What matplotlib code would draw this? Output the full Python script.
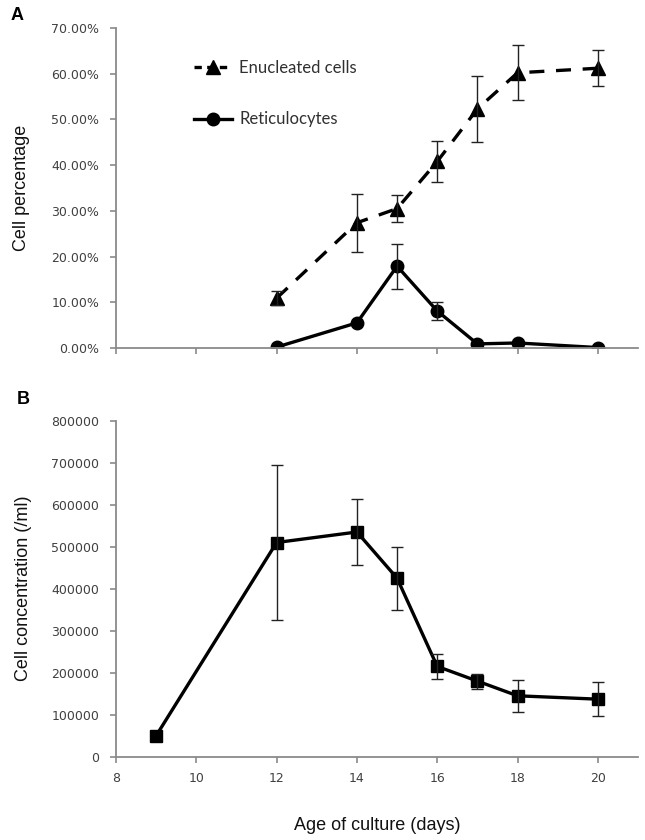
import matplotlib
matplotlib.use("Agg")
import matplotlib.pyplot as plt
from matplotlib.ticker import FuncFormatter, MultipleLocator
from matplotlib.lines import Line2D

# ---- data ----
days_pct = [12, 14, 15, 16, 17, 18, 20]
enucleated = [10.9, 27.4, 30.5, 40.8, 52.3, 60.2, 61.2]
enucleated_err = [1.5, 6.3, 3.0, 4.4, 7.3, 6.0, 3.9]
reticulocytes = [0.2, 5.5, 17.9, 8.1, 0.9, 1.1, 0.1]
reticulocytes_err = [0.0, 0.0, 4.9, 2.0, 0.0, 0.0, 0.0]

days_conc = [9, 12, 14, 15, 16, 17, 18, 20]
concentration = [50000, 510000, 535000, 425000, 215000, 180000, 145000, 137000]
concentration_err = [0, 185000, 78000, 75000, 30000, 18000, 38000, 41000]

x_ticks = [8, 10, 12, 14, 16, 18, 20]

plt.rcParams["font.family"] = ["DejaVu Sans"]

spine_col = "#8a8a8a"
tick_col = "#404040"
label_font = "Liberation Sans"

fig = plt.figure(figsize=(6.45, 8.4), dpi=100)
axA = fig.add_axes([116/645, 1-348/840, (638-116)/645, (348-28)/840])
axB = fig.add_axes([116/645, 1-756.7/840, (638-116)/645, (756.7-420.7)/840])

for ax in (axA, axB):
    for s in ("top", "right"):
        ax.spines[s].set_visible(False)
    for s in ("left", "bottom"):
        ax.spines[s].set_color(spine_col)
        ax.spines[s].set_linewidth(1.3)
    ax.tick_params(axis="both", colors=spine_col, labelcolor=tick_col,
                   direction="out", length=4, width=1.2, labelsize=9)
    ax.tick_params(axis="y", pad=8)
    ax.tick_params(axis="x", pad=7)
    ax.set_xlim(8, 21)
    ax.set_xticks(x_ticks)

err_kw = dict(fmt="none", ecolor="#222222", elinewidth=1.0, capsize=4, capthick=1.0, zorder=3)


def draw_err(ax, xs, ys, es):
    sx = [x for x, e in zip(xs, es) if e > 0]
    sy = [y for y, e in zip(ys, es) if e > 0]
    se = [e for e in es if e > 0]
    ax.errorbar(sx, sy, yerr=se, **err_kw)


# Panel A
axA.plot(days_pct, enucleated, color="black", lw=2.4, marker="^", markersize=10,
         dashes=(4.5, 3.5), zorder=2)
draw_err(axA, days_pct, enucleated, enucleated_err)
axA.plot(days_pct, reticulocytes, color="black", lw=2.4, marker="o", markersize=9, zorder=2)
draw_err(axA, days_pct, reticulocytes, reticulocytes_err)
axA.set_ylim(0, 70)
axA.yaxis.set_major_locator(MultipleLocator(10))
axA.yaxis.set_major_formatter(FuncFormatter(lambda v, p: f"{v:.2f}%"))
axA.tick_params(axis="x", labelbottom=False)
axA.set_ylabel("Cell percentage", fontsize=13, fontfamily=label_font, color="#111111")
axA.yaxis.set_label_coords(-0.165, 0.5)

handles = [
    Line2D([], [], color="black", lw=2.4, marker="^", markersize=10, dashes=(2.2, 1.6)),
    Line2D([], [], color="black", lw=2.4, marker="o", markersize=9),
]
leg = axA.legend(handles, ["Enucleated cells", "Reticulocytes"], loc="upper left",
                 bbox_to_anchor=(0.12, 0.948), frameon=False,
                 handlelength=2.3, labelspacing=2.15, handletextpad=0.45,
                 prop={"family": "Lato", "size": 12})
for t in leg.get_texts():
    t.set_color("#303030")

# Panel B
axB.plot(days_conc, concentration, color="black", lw=2.4, marker="s", markersize=9, zorder=2)
draw_err(axB, days_conc, concentration, concentration_err)
axB.set_ylim(0, 800000)
axB.yaxis.set_major_locator(MultipleLocator(100000))
axB.yaxis.set_major_formatter(FuncFormatter(lambda v, p: f"{int(v)}"))
axB.set_ylabel("Cell concentration (/ml)", fontsize=13, fontfamily=label_font, color="#111111")
axB.yaxis.set_label_coords(-0.161, 0.5)
axB.set_xlabel("Age of culture (days)", fontsize=13, fontfamily=label_font, color="#111111",
               labelpad=23)

fig.text(17/645, 1-15/840, "A", fontsize=13, fontweight="bold", fontfamily=label_font,
         ha="center", va="center")
fig.text(23/645, 1-400/840, "B", fontsize=13, fontweight="bold", fontfamily=label_font,
         ha="center", va="center")

fig.savefig("out.png", dpi=100)
